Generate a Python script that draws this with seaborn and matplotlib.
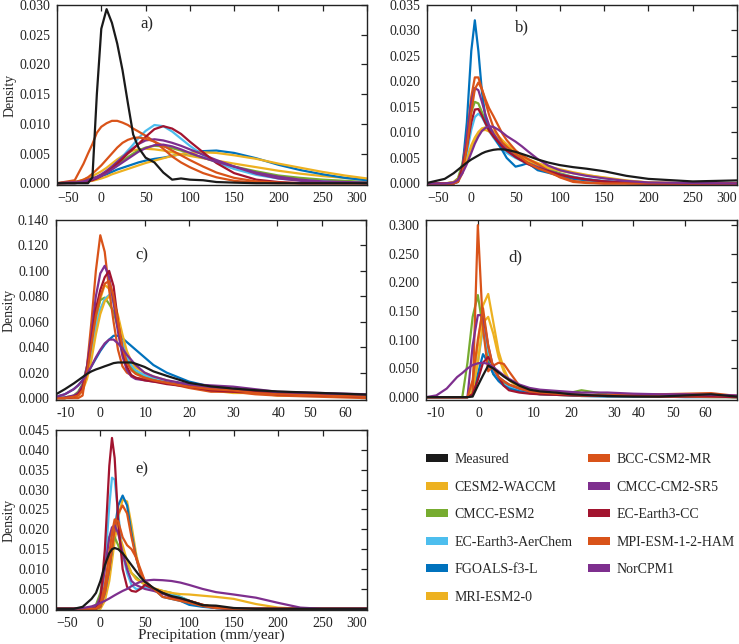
import numpy as np
import pandas as pd
import matplotlib.pyplot as plt
import seaborn as sns
from matplotlib.patches import Patch

# modelos e cores (ordem da legenda)
models = ['Measured', 'CESM2-WACCM', 'CMCC-ESM2', 'EC-Earth3-AerChem', 'FGOALS-f3-L', 'MRI-ESM2-0',
          'BCC-CSM2-MR', 'CMCC-CM2-SR5', 'EC-Earth3-CC', 'MPI-ESM-1-2-HAM', 'NorCPM1']
colors = ['#1a1a1a', '#EDB120', '#77AC30', '#4DBEEE', '#0072BD', '#EDB120',
          '#D95319', '#7E2F8E', '#A2142F', '#D95319', '#7E2F8E']

# ---- painel a) ----
xa = [-50, -30, -20, -15, -10, -5, 0, 6, 12, 18, 24, 30, 36, 42, 50, 60, 70, 80, 90, 100, 115, 130, 150, 175, 200, 225, 250, 275, 300]
dens_a = {
    'Measured': [0, 0, 0, 0, 0.001, 0.015, 0.026, 0.0293, 0.027, 0.0235, 0.019, 0.0135, 0.0082, 0.006, 0.0043, 0.0035, 0.0018, 0.0006, 0.0008, 0.0006, 0.0005, 0.0002, 0.0001, 0, 0, 0, 0, 0, 0],
    'CESM2-WACCM': [0, 0.0002, 0.0006, 0.0009, 0.0012, 0.0016, 0.002, 0.0026, 0.0033, 0.004, 0.0046, 0.0051, 0.0055, 0.0057, 0.0058, 0.0057, 0.0055, 0.0052, 0.0049, 0.0046, 0.0042, 0.0038, 0.0033, 0.0027, 0.0021, 0.0016, 0.0012, 0.0009, 0.0006],
    'CMCC-ESM2': [0, 0.0002, 0.0004, 0.0006, 0.0008, 0.001, 0.0013, 0.0018, 0.0024, 0.003, 0.0037, 0.0044, 0.005, 0.0055, 0.006, 0.0063, 0.0062, 0.0059, 0.0055, 0.005, 0.0043, 0.0036, 0.0028, 0.002, 0.0013, 0.0009, 0.0006, 0.0004, 0.0002],
    'EC-Earth3-AerChem': [0, 0, 0.0002, 0.0004, 0.0006, 0.0009, 0.0013, 0.002, 0.0028, 0.0036, 0.0045, 0.0055, 0.0065, 0.0076, 0.0088, 0.0098, 0.0096, 0.0087, 0.0075, 0.0063, 0.0047, 0.0035, 0.0024, 0.0014, 0.0008, 0.0005, 0.0003, 0.0001, 0],
    'FGOALS-f3-L': [0, 0.0001, 0.0003, 0.0005, 0.0007, 0.0009, 0.0012, 0.0015, 0.0019, 0.0023, 0.0026, 0.0029, 0.0032, 0.0035, 0.0038, 0.0041, 0.0043, 0.0046, 0.0049, 0.0051, 0.0054, 0.0055, 0.0051, 0.0042, 0.0031, 0.0022, 0.0015, 0.0009, 0.0005],
    'MRI-ESM2-0': [0, 0.0001, 0.0002, 0.0003, 0.0004, 0.0006, 0.0008, 0.0011, 0.0015, 0.0018, 0.0021, 0.0024, 0.0027, 0.003, 0.0034, 0.0038, 0.0042, 0.0046, 0.0049, 0.0051, 0.0052, 0.0051, 0.0047, 0.0041, 0.0033, 0.0026, 0.0019, 0.0013, 0.0008],
    'BCC-CSM2-MR': [0, 0.0005, 0.0033, 0.005, 0.0066, 0.0085, 0.0095, 0.0101, 0.0105, 0.0105, 0.0102, 0.0098, 0.0092, 0.0087, 0.008, 0.007, 0.0058, 0.0045, 0.0035, 0.0027, 0.0017, 0.001, 0.0004, 0.0001, 0, 0, 0, 0, 0],
    'CMCC-CM2-SR5': [0, 0.0002, 0.0004, 0.0006, 0.0008, 0.0011, 0.0015, 0.0021, 0.0028, 0.0036, 0.0044, 0.0052, 0.0059, 0.0066, 0.0072, 0.0074, 0.0072, 0.0068, 0.0063, 0.0057, 0.0048, 0.0039, 0.0028, 0.0016, 0.0008, 0.0004, 0.0002, 0.0001, 0],
    'EC-Earth3-CC': [0, 0, 0.0002, 0.0003, 0.0005, 0.0008, 0.0012, 0.0018, 0.0025, 0.0033, 0.0041, 0.005, 0.0058, 0.0066, 0.0078, 0.0091, 0.0096, 0.0092, 0.0083, 0.007, 0.0052, 0.0034, 0.0017, 0.0006, 0.0002, 0, 0, 0, 0],
    'MPI-ESM-1-2-HAM': [0, 0.0001, 0.0006, 0.001, 0.0016, 0.0023, 0.003, 0.004, 0.005, 0.006, 0.0068, 0.0073, 0.0076, 0.0077, 0.0075, 0.007, 0.0063, 0.0055, 0.0047, 0.0039, 0.0028, 0.0018, 0.0009, 0.0003, 0.0001, 0, 0, 0, 0],
    'NorCPM1': [0, 0.0001, 0.0003, 0.0005, 0.0007, 0.0009, 0.0012, 0.0017, 0.0023, 0.0029, 0.0035, 0.0041, 0.0047, 0.0053, 0.0059, 0.0064, 0.0065, 0.0062, 0.0057, 0.0051, 0.0043, 0.0036, 0.0028, 0.0018, 0.0011, 0.0006, 0.0003, 0.0002, 0.0001],
}

# ---- painel b) ----
xb = [-50, -30, -20, -15, -10, -5, 0, 4, 8, 12, 16, 20, 25, 30, 35, 40, 50, 57, 64, 75, 87, 100, 115, 130, 150, 175, 200, 250, 300]
dens_b = {
    'Measured': [0.0001, 0.0009, 0.002, 0.0027, 0.0034, 0.0041, 0.0047, 0.0051, 0.0055, 0.0059, 0.0062, 0.0064, 0.0066, 0.0067, 0.0067, 0.0066, 0.0062, 0.0058, 0.0054, 0.0047, 0.0041, 0.0036, 0.0032, 0.0029, 0.0024, 0.0015, 0.0009, 0.0004, 0.0006],
    'CESM2-WACCM': [0, 0, 0.0003, 0.001, 0.0028, 0.005, 0.0075, 0.009, 0.0101, 0.0108, 0.011, 0.0108, 0.0102, 0.0094, 0.0085, 0.0077, 0.0063, 0.0055, 0.0048, 0.004, 0.0033, 0.0028, 0.0022, 0.0017, 0.0011, 0.0005, 0.0002, 0, 0],
    'CMCC-ESM2': [0, 0, 0.0002, 0.001, 0.004, 0.009, 0.014, 0.016, 0.0157, 0.014, 0.0122, 0.0105, 0.0093, 0.0082, 0.0073, 0.0066, 0.0056, 0.005, 0.0044, 0.0036, 0.0028, 0.002, 0.0013, 0.0008, 0.0004, 0.0001, 0, 0, 0],
    'EC-Earth3-AerChem': [0, 0, 0, 0.0004, 0.0025, 0.006, 0.0105, 0.013, 0.0137, 0.013, 0.0117, 0.0103, 0.009, 0.0078, 0.0068, 0.006, 0.005, 0.0044, 0.0038, 0.003, 0.0023, 0.0018, 0.0013, 0.0009, 0.0005, 0.0002, 0, 0, 0],
    'FGOALS-f3-L': [0, 0, 0, 0.0003, 0.003, 0.012, 0.026, 0.032, 0.026, 0.018, 0.013, 0.011, 0.0093, 0.0079, 0.0065, 0.005, 0.0033, 0.0036, 0.004, 0.0026, 0.0021, 0.0015, 0.0009, 0.0006, 0.0004, 0.0001, 0, 0, 0],
    'MRI-ESM2-0': [0, 0, 0.0002, 0.0008, 0.0024, 0.0046, 0.007, 0.0085, 0.0097, 0.0104, 0.0105, 0.0102, 0.0096, 0.0088, 0.008, 0.0072, 0.006, 0.0052, 0.0045, 0.0037, 0.003, 0.0025, 0.002, 0.0016, 0.0012, 0.0006, 0.0002, 0, 0],
    'BCC-CSM2-MR': [0, 0, 0, 0.0005, 0.003, 0.009, 0.017, 0.0208, 0.0208, 0.0185, 0.0165, 0.0148, 0.0132, 0.0115, 0.0098, 0.0085, 0.0065, 0.0055, 0.0048, 0.0038, 0.0025, 0.0012, 0.0003, 0.0001, 0, 0, 0, 0, 0],
    'CMCC-CM2-SR5': [0, 0, 0, 0.0004, 0.003, 0.009, 0.016, 0.0187, 0.0183, 0.016, 0.0135, 0.0115, 0.0098, 0.0085, 0.0075, 0.0066, 0.0052, 0.0045, 0.004, 0.0032, 0.0025, 0.0018, 0.0012, 0.0008, 0.0004, 0.0002, 0, 0, 0],
    'EC-Earth3-CC': [0, 0, 0, 0.0005, 0.003, 0.007, 0.012, 0.0145, 0.0146, 0.0133, 0.0118, 0.0104, 0.0092, 0.0082, 0.0072, 0.0064, 0.0052, 0.0045, 0.0038, 0.003, 0.0024, 0.0017, 0.0012, 0.0008, 0.0004, 0.0001, 0, 0, 0],
    'MPI-ESM-1-2-HAM': [0, 0, 0, 0.0003, 0.002, 0.007, 0.014, 0.0185, 0.0198, 0.0185, 0.016, 0.0135, 0.011, 0.0095, 0.008, 0.0072, 0.0058, 0.005, 0.004, 0.003, 0.0022, 0.0013, 0.0005, 0.0002, 0, 0, 0, 0, 0],
    'NorCPM1': [0, 0, 0.0002, 0.0007, 0.002, 0.0038, 0.006, 0.0078, 0.0092, 0.0103, 0.0109, 0.0112, 0.0111, 0.0106, 0.01, 0.0093, 0.0082, 0.0073, 0.0063, 0.0048, 0.0035, 0.0026, 0.002, 0.0015, 0.001, 0.0005, 0.0002, 0.0001, 0],
}

# ---- painel c) ----
xc = [-10, -8, -6, -5, -4, -3, -2, -1, 0, 1, 2, 3, 4, 5, 6, 7, 8, 10, 12, 15, 20, 25, 30, 35, 40, 50, 60]
dens_c = {
    'Measured': [0.003, 0.007, 0.0115, 0.014, 0.0165, 0.019, 0.021, 0.0225, 0.0237, 0.025, 0.0262, 0.0275, 0.028, 0.028, 0.028, 0.028, 0.027, 0.0245, 0.021, 0.0175, 0.012, 0.0092, 0.0075, 0.0062, 0.0052, 0.004, 0.0028],
    'CESM2-WACCM': [0, 0, 0.001, 0.003, 0.008, 0.02, 0.038, 0.06, 0.078, 0.089, 0.086, 0.078, 0.063, 0.045, 0.032, 0.025, 0.021, 0.018, 0.016, 0.013, 0.009, 0.006, 0.004, 0.004, 0.002, 0.002, 0.001],
    'CMCC-ESM2': [0, 0.0005, 0.002, 0.005, 0.011, 0.025, 0.045, 0.065, 0.077, 0.079, 0.074, 0.068, 0.055, 0.04, 0.03, 0.024, 0.02, 0.017, 0.015, 0.012, 0.009, 0.007, 0.005, 0.004, 0.003, 0.002, 0.001],
    'EC-Earth3-AerChem': [0, 0, 0.001, 0.003, 0.007, 0.018, 0.035, 0.055, 0.07, 0.078, 0.081, 0.075, 0.06, 0.045, 0.033, 0.026, 0.022, 0.018, 0.016, 0.013, 0.01, 0.008, 0.006, 0.005, 0.004, 0.003, 0.002],
    'FGOALS-f3-L': [0.001, 0.003, 0.007, 0.01, 0.014, 0.019, 0.025, 0.031, 0.037, 0.042, 0.046, 0.049, 0.049, 0.047, 0.044, 0.041, 0.038, 0.032, 0.026, 0.02, 0.013, 0.009, 0.007, 0.005, 0.004, 0.003, 0.002],
    'MRI-ESM2-0': [0, 0, 0.001, 0.002, 0.006, 0.015, 0.03, 0.05, 0.066, 0.076, 0.08, 0.077, 0.065, 0.05, 0.037, 0.029, 0.024, 0.02, 0.017, 0.014, 0.01, 0.007, 0.005, 0.004, 0.003, 0.002, 0.001],
    'BCC-CSM2-MR': [0, 0, 0, 0, 0.002, 0.025, 0.06, 0.1, 0.128, 0.115, 0.085, 0.06, 0.038, 0.025, 0.02, 0.018, 0.016, 0.015, 0.014, 0.012, 0.008, 0.005, 0.005, 0.003, 0.002, 0.001, 0],
    'CMCC-CM2-SR5': [0, 0.0005, 0.002, 0.004, 0.01, 0.025, 0.05, 0.08, 0.098, 0.104, 0.095, 0.075, 0.052, 0.033, 0.022, 0.017, 0.015, 0.014, 0.013, 0.012, 0.01, 0.008, 0.007, 0.005, 0.004, 0.003, 0.001],
    'EC-Earth3-CC': [0, 0, 0.001, 0.003, 0.008, 0.022, 0.045, 0.07, 0.085, 0.095, 0.1, 0.088, 0.06, 0.038, 0.025, 0.018, 0.016, 0.014, 0.013, 0.011, 0.009, 0.006, 0.005, 0.005, 0.003, 0.002, 0.001],
    'MPI-ESM-1-2-HAM': [0, 0, 0.001, 0.002, 0.006, 0.02, 0.042, 0.065, 0.08, 0.09, 0.092, 0.08, 0.06, 0.04, 0.028, 0.022, 0.019, 0.016, 0.014, 0.012, 0.009, 0.007, 0.006, 0.004, 0.003, 0.002, 0.001],
    'NorCPM1': [0.001, 0.003, 0.007, 0.01, 0.014, 0.019, 0.025, 0.032, 0.038, 0.043, 0.046, 0.046, 0.043, 0.039, 0.034, 0.03, 0.026, 0.02, 0.017, 0.014, 0.011, 0.01, 0.009, 0.007, 0.005, 0.004, 0.003],
}

# ---- painel d) ----
xd = [-10, -8, -6, -4, -3, -2, -1, 0, 1, 2, 3, 4, 5, 6, 8, 10, 12, 15, 18, 20, 25, 30, 35, 40, 45, 50]
dens_d = {
    'Measured': [0, 0, 0, 0, 0, 0, 0.001, 0.02, 0.038, 0.055, 0.05, 0.043, 0.036, 0.03, 0.02, 0.013, 0.01, 0.008, 0.005, 0.004, 0.002, 0.001, 0.001, 0.003, 0.005, 0.001],
    'CESM2-WACCM': [0, 0, 0, 0, 0, 0, 0.02, 0.09, 0.16, 0.18, 0.13, 0.08, 0.05, 0.03, 0.015, 0.008, 0.005, 0.004, 0.003, 0.002, 0.002, 0.002, 0.002, 0.001, 0.001, 0],
    'CMCC-ESM2': [0, 0, 0, 0, 0, 0.06, 0.14, 0.178, 0.12, 0.07, 0.04, 0.03, 0.025, 0.02, 0.013, 0.008, 0.006, 0.005, 0.008, 0.012, 0.005, 0.003, 0.002, 0.002, 0.001, 0],
    'EC-Earth3-AerChem': [0, 0, 0, 0, 0, 0, 0.01, 0.06, 0.12, 0.08, 0.045, 0.03, 0.022, 0.018, 0.012, 0.008, 0.006, 0.005, 0.004, 0.003, 0.002, 0.002, 0.001, 0.001, 0.001, 0],
    'FGOALS-f3-L': [0, 0, 0, 0, 0, 0, 0.005, 0.04, 0.075, 0.06, 0.04, 0.028, 0.02, 0.015, 0.01, 0.007, 0.005, 0.004, 0.003, 0.002, 0.001, 0.001, 0.001, 0, 0, 0],
    'MRI-ESM2-0': [0, 0, 0, 0, 0, 0, 0.01, 0.06, 0.13, 0.14, 0.11, 0.07, 0.045, 0.03, 0.018, 0.01, 0.007, 0.005, 0.004, 0.003, 0.002, 0.002, 0.001, 0.001, 0, 0],
    'BCC-CSM2-MR': [0, 0, 0, 0, 0, 0, 0.005, 0.3, 0.12, 0.045, 0.055, 0.06, 0.058, 0.045, 0.02, 0.01, 0.006, 0.005, 0.004, 0.003, 0.003, 0.004, 0.005, 0.006, 0.007, 0.002],
    'CMCC-CM2-SR5': [0, 0, 0, 0, 0, 0, 0.09, 0.143, 0.143, 0.09, 0.05, 0.035, 0.028, 0.022, 0.015, 0.01, 0.008, 0.006, 0.005, 0.004, 0.003, 0.003, 0.002, 0.002, 0.002, 0.001],
    'EC-Earth3-CC': [0, 0, 0, 0, 0, 0, 0.005, 0.03, 0.06, 0.07, 0.055, 0.035, 0.02, 0.012, 0.008, 0.006, 0.005, 0.004, 0.003, 0.003, 0.002, 0.002, 0.001, 0.001, 0.001, 0],
    'MPI-ESM-1-2-HAM': [0, 0, 0, 0, 0, 0, 0.03, 0.1, 0.155, 0.09, 0.05, 0.035, 0.028, 0.022, 0.015, 0.01, 0.008, 0.006, 0.005, 0.004, 0.003, 0.005, 0.004, 0.003, 0.004, 0.002],
    'NorCPM1': [0, 0.003, 0.015, 0.035, 0.042, 0.05, 0.056, 0.059, 0.06, 0.058, 0.052, 0.045, 0.038, 0.032, 0.022, 0.016, 0.013, 0.011, 0.009, 0.008, 0.008, 0.006, 0.005, 0.005, 0.004, 0.003],
}

# ---- painel e) ----
xe = [-50, -30, -20, -10, -5, 0, 5, 10, 13, 16, 20, 25, 30, 35, 40, 45, 50, 60, 70, 80, 90, 100, 115, 130, 150, 175, 200, 225, 250, 300]
dens_e = {
    'Measured': [0, 0, 0.0005, 0.0025, 0.004, 0.007, 0.011, 0.014, 0.015, 0.0153, 0.015, 0.014, 0.0125, 0.011, 0.0095, 0.008, 0.0068, 0.0052, 0.004, 0.0032, 0.0027, 0.002, 0.0009, 0.0008, 0.0002, 0, 0, 0, 0, 0],
    'CESM2-WACCM': [0, 0, 0, 0, 0, 0, 0.002, 0.007, 0.012, 0.017, 0.023, 0.0275, 0.027, 0.021, 0.014, 0.009, 0.0065, 0.005, 0.004, 0.003, 0.0025, 0.002, 0.001, 0.0005, 0, 0, 0, 0, 0, 0],
    'CMCC-ESM2': [0, 0, 0, 0, 0.001, 0.004, 0.011, 0.018, 0.019, 0.018, 0.016, 0.013, 0.011, 0.009, 0.008, 0.007, 0.006, 0.005, 0.0045, 0.004, 0.003, 0.002, 0.001, 0.0003, 0, 0, 0, 0, 0, 0],
    'EC-Earth3-AerChem': [0, 0, 0, 0, 0, 0.001, 0.01, 0.026, 0.033, 0.0325, 0.024, 0.014, 0.009, 0.006, 0.005, 0.005, 0.0055, 0.005, 0.0038, 0.0035, 0.003, 0.002, 0.0008, 0.0002, 0, 0, 0, 0, 0, 0],
    'FGOALS-f3-L': [0, 0, 0, 0, 0, 0.0005, 0.004, 0.01, 0.015, 0.02, 0.026, 0.0285, 0.026, 0.019, 0.013, 0.009, 0.007, 0.005, 0.003, 0.0025, 0.002, 0.001, 0.0005, 0.0002, 0, 0, 0, 0, 0, 0],
    'MRI-ESM2-0': [0, 0, 0, 0, 0, 0.001, 0.005, 0.012, 0.016, 0.019, 0.019, 0.016, 0.012, 0.009, 0.0075, 0.0068, 0.0062, 0.0052, 0.0045, 0.004, 0.0037, 0.0036, 0.0033, 0.003, 0.0025, 0.0012, 0.0003, 0, 0, 0],
    'BCC-CSM2-MR': [0, 0, 0, 0, 0, 0.0005, 0.004, 0.01, 0.015, 0.02, 0.024, 0.026, 0.024, 0.018, 0.013, 0.009, 0.007, 0.005, 0.004, 0.003, 0.0025, 0.002, 0.001, 0.0003, 0, 0, 0, 0, 0, 0],
    'CMCC-CM2-SR5': [0, 0, 0, 0, 0.0005, 0.003, 0.01, 0.018, 0.0205, 0.021, 0.019, 0.014, 0.01, 0.007, 0.006, 0.0055, 0.005, 0.0045, 0.0038, 0.003, 0.0025, 0.0018, 0.0008, 0.0002, 0, 0, 0, 0, 0, 0],
    'EC-Earth3-CC': [0, 0, 0, 0, 0, 0.002, 0.015, 0.036, 0.043, 0.038, 0.022, 0.01, 0.0055, 0.0045, 0.0043, 0.005, 0.006, 0.005, 0.004, 0.003, 0.0025, 0.002, 0.001, 0.0003, 0, 0, 0, 0, 0, 0],
    'MPI-ESM-1-2-HAM': [0, 0, 0, 0, 0, 0.001, 0.006, 0.014, 0.019, 0.0225, 0.022, 0.018, 0.016, 0.015, 0.013, 0.01, 0.007, 0.005, 0.003, 0.0025, 0.002, 0.0015, 0.0007, 0.0002, 0, 0, 0, 0, 0, 0],
    'NorCPM1': [0, 0, 0.0002, 0.0006, 0.001, 0.0015, 0.002, 0.0026, 0.003, 0.0034, 0.0039, 0.0045, 0.005, 0.0057, 0.0063, 0.0068, 0.0071, 0.0073, 0.0072, 0.007, 0.0066, 0.006, 0.005, 0.0042, 0.0036, 0.0028, 0.0015, 0.0003, 0, 0],
}

# rótulos do eixo x dos painéis c) e d) (posições como aparecem na figura)
lab_txt = ['-10', '0', '10', '20', '30', '40', '50', '60']
lab_pos_c = [-7.9, 0, 10.2, 20.1, 30, 40.2, 47.4, 55.3]
lab_pos_d = [-8.1, 0.2, 10.8, 18.1, 26.3, 31, 37.7, 43.8]

sns.set_style('white')
plt.rcParams['font.family'] = ['Liberation Serif', 'DejaVu Serif']
plt.rcParams['font.size'] = 10

palette = dict(zip(models, colors))
draw_order = models[1:] + ['Measured']

fig = plt.figure(figsize=(7.39, 6.44), dpi=100)
W, H = 739, 644


def make_ax(left, top, right, bottom):
    return fig.add_axes([left / W, (H - bottom) / H, (right - left) / W, (bottom - top) / H])


def draw(ax, x, dens):
    for k in dens:
        assert len(dens[k]) == len(x), k
    df = pd.DataFrame({
        'x': np.tile(x, len(dens)),
        'density': np.concatenate([dens[k] for k in dens]),
        'model': np.repeat(list(dens), len(x)),
    })
    sns.lineplot(data=df, x='x', y='density', hue='model', hue_order=draw_order,
                 palette=palette, estimator=None, sort=False, lw=1.6, legend=False, ax=ax)
    ax.set_xlabel('')
    ax.set_ylabel('')
    for s in ax.spines.values():
        s.set_linewidth(1.0)
        s.set_color('#222222')
    ax.tick_params(which='both', direction='in', top=True, right=True, length=4,
                   width=0.9, labelsize=10, pad=5, colors='#222222')


ax_a = make_ax(57, 5, 367, 185)
ax_b = make_ax(427, 5, 737, 185)
ax_c = make_ax(56, 220, 366, 400)
ax_d = make_ax(426, 220, 737, 400)
ax_e = make_ax(56, 430, 367, 610)

draw(ax_a, xa, dens_a)
draw(ax_b, xb, dens_b)
draw(ax_c, xc, dens_c)
draw(ax_d, xd, dens_d)
draw(ax_e, xe, dens_e)

for ax, top, step in [(ax_a, 0.030, 0.005), (ax_b, 0.035, 0.005), (ax_e, 0.045, 0.005)]:
    ax.set_xlim(-50, 300)
    ax.set_xticks(range(-50, 301, 50))
    ax.set_ylim(-0.0003, top)
    ax.set_yticks(np.arange(0, top + 1e-9, step))
    # rótulos das pontas ficam dentro do quadro
    labs = ax.get_xticklabels()
    labs[0].set_horizontalalignment('left')
    labs[-1].set_horizontalalignment('right')

ax_c.set_xlim(-10, 60)
ax_c.set_ylim(-0.0015, 0.14)
ax_c.set_yticks(np.arange(0, 0.1401, 0.02))
ax_d.set_xlim(-10, 50)
ax_d.set_ylim(-0.005, 0.309)
ax_d.set_yticks(np.arange(0, 0.3001, 0.05))

for ax, pos, hi in [(ax_c, lab_pos_c, 61), (ax_d, lab_pos_d, 51)]:
    ax.set_xticks(pos, labels=lab_txt)
    ax.set_xticks(range(-10, hi, 10), minor=True)
    ax.tick_params(axis='x', which='major', length=0, pad=5)

for ax in [ax_a, ax_b, ax_c, ax_d, ax_e]:
    ax.yaxis.set_major_formatter(plt.FormatStrFormatter('%.3f'))

for ax in [ax_a, ax_c, ax_e]:
    ax.set_ylabel('Density', fontsize=10, labelpad=2)
ax_e.set_xlabel('Precipitation (mm/year)', fontsize=11, labelpad=-1)

# letras dos painéis
ax_a.text(0.27, 0.89, 'a)', transform=ax_a.transAxes, fontsize=12, va='center')
ax_b.text(0.284, 0.878, 'b)', transform=ax_b.transAxes, fontsize=12, va='center')
ax_c.text(0.255, 0.805, 'c)', transform=ax_c.transAxes, fontsize=12, va='center')
ax_d.text(0.265, 0.79, 'd)', transform=ax_d.transAxes, fontsize=12, va='center')
ax_e.text(0.255, 0.78, 'e)', transform=ax_e.transAxes, fontsize=12, va='center')

# legenda com retângulos coloridos
handles = [Patch(facecolor=c, edgecolor='none', label=m) for m, c in zip(models, colors)]
fig.legend(handles=handles, ncol=2, loc='upper left', bbox_to_anchor=(426 / W, (H - 453) / H),
           frameon=False, fontsize=10, handlelength=1.6, handleheight=0.5, handletextpad=0.45,
           labelspacing=1.05, columnspacing=1.1, borderpad=0, borderaxespad=0)

fig.savefig('out.png', dpi=100)
